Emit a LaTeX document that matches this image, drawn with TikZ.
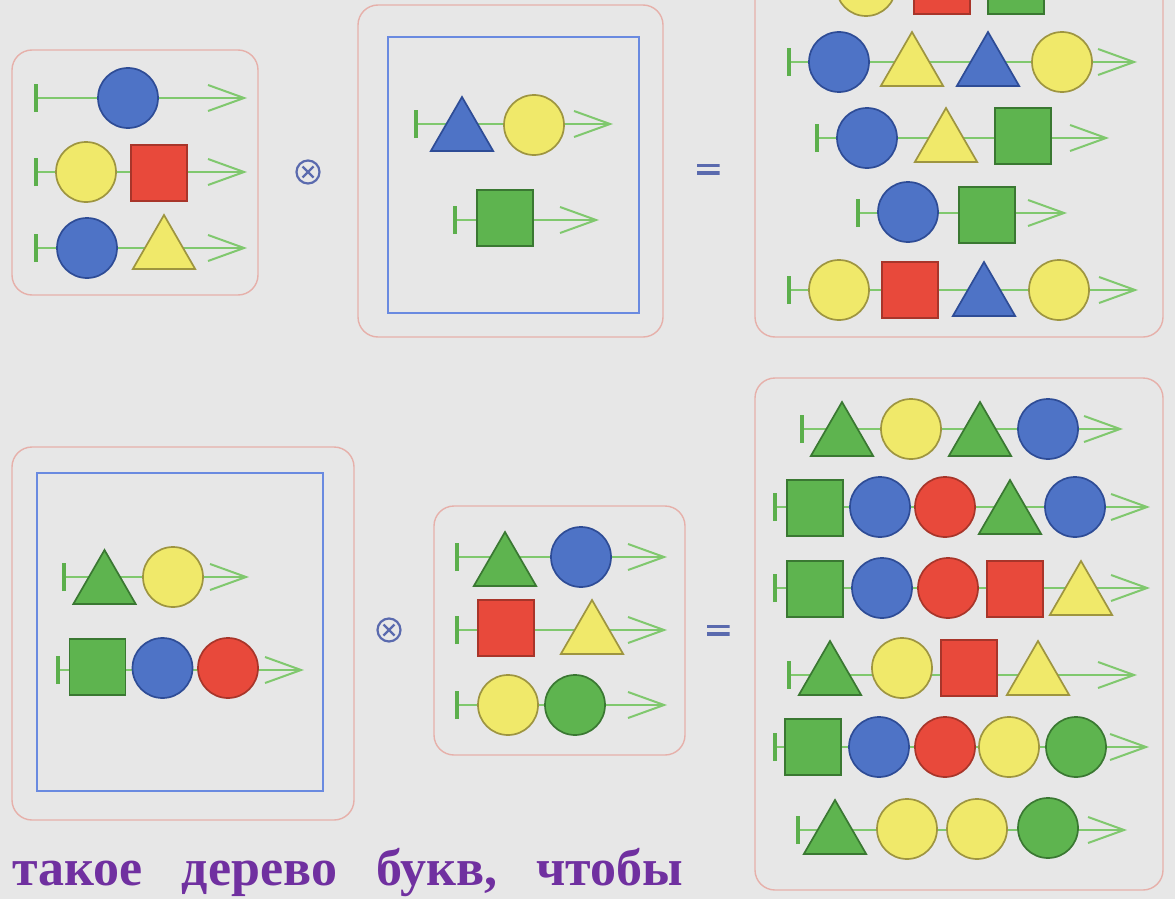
\documentclass[tikz,border=0pt]{standalone}
\usepackage{fontspec}
\setmainfont{Liberation Serif}
\usetikzlibrary{arrows.meta,shapes.geometric}
\definecolor{pagegrey}{HTML}{E7E7E7}
\definecolor{cardpink}{HTML}{E6B0AA}
\definecolor{frameblue}{HTML}{6A8AE0}
\definecolor{opgrey}{HTML}{5A6AAE}
\definecolor{trackgreen}{HTML}{80C86E}
\definecolor{tickgreen}{HTML}{5CAF4C}
\definecolor{fblue}{HTML}{4E73C6}
\definecolor{dblue}{HTML}{2E4C96}
\definecolor{fyellow}{HTML}{F0E96A}
\definecolor{dyellow}{HTML}{9E9540}
\definecolor{fred}{HTML}{E8493B}
\definecolor{dred}{HTML}{A8352A}
\definecolor{fgreen}{HTML}{5EB44F}
\definecolor{dgreen}{HTML}{3A7832}
\definecolor{txtpurple}{HTML}{7030A0}

\begin{document}
\begin{tikzpicture}[x=1pt, y=-1pt,
  card/.style={draw=cardpink, line width=1.4pt, rounded corners=20pt},
  frame/.style={draw=frameblue, line width=2pt},
  track/.style={draw=trackgreen, line width=2pt,
    {Bar[width=28pt,line width=3.5pt,color=tickgreen]}-{Straight Barb[length=36pt,width=26pt]}},
  ball/.style={circle, minimum size=60pt, inner sep=0pt, line width=1.7pt},
  sqr/.style={rectangle, minimum size=56pt, inner sep=0pt, line width=1.7pt},
  tri/.style={regular polygon, regular polygon sides=3, minimum size=72pt, inner sep=0pt, line width=1.7pt},
  blu/.style={fill=fblue, draw=dblue},
  yel/.style={fill=fyellow, draw=dyellow},
  rd/.style={fill=fred, draw=dred},
  grn/.style={fill=fgreen, draw=dgreen},
  opsign/.style={circle, draw=opgrey, line width=2.2pt, minimum size=23pt, inner sep=0pt,
    path picture={\draw[opgrey, line width=2.2pt]
      (path picture bounding box.center) ++(-5.5pt,-5.5pt) -- ++(11pt,11pt)
      (path picture bounding box.center) ++(-5.5pt,5.5pt) -- ++(11pt,-11pt);}},
  eqsign/.style={rectangle, minimum width=23pt, minimum height=11pt, inner sep=0pt,
    path picture={\fill[opgrey] (path picture bounding box.north west) rectangle ++(23pt,-3.5pt);
      \fill[opgrey] (path picture bounding box.south west) rectangle ++(23pt,3.5pt);}}]
\useasboundingbox (0,0) rectangle (1175,899);
\clip (0,0) rectangle (1175,899);
\fill[pagegrey] (0,0) rectangle (1175,899);

% top line: cards
\draw[card] (12,50) rectangle (258,295);
\draw[card] (358,5) rectangle (663,337);
\draw[frame] (388,37) rectangle (639,313);
\draw[card] (755,-40) rectangle (1163,337);

% first card
\coordinate (a1s) at (34,98); \coordinate (a1e) at (247,98);
\draw[track] (a1s) -- (a1e);
\node[ball, blu] (a1n1) at (128,98) {};
\coordinate (a2s) at (34,172); \coordinate (a2e) at (247,172);
\draw[track] (a2s) -- (a2e);
\node[ball, yel] (a2n1) at (86,172) {};
\node[sqr, rd] (a2n2) at (159,173) {};
\coordinate (a3s) at (34,248); \coordinate (a3e) at (247,248);
\draw[track] (a3s) -- (a3e);
\node[ball, blu] (a3n1) at (87,248) {};
\node[tri, yel] (a3n2) at (164,251) {};

\node[opsign] (times1) at (308,172) {};

% second card
\coordinate (b1s) at (414,124); \coordinate (b1e) at (613,124);
\draw[track] (b1s) -- (b1e);
\node[tri, blu] (b1n1) at (462,133) {};
\node[ball, yel] (b1n2) at (534,125) {};
\coordinate (b2s) at (453,220); \coordinate (b2e) at (599,220);
\draw[track] (b2s) -- (b2e);
\node[sqr, grn] (b2n1) at (505,218) {};

\node[eqsign] (equal1) at (708,169) {};

% result card
\coordinate (c1s) at (813,-14); \coordinate (c1e) at (1098,-14);
\draw[track] (c1s) -- (c1e);
\node[ball, yel] (c1n1) at (866,-14) {};
\node[sqr, rd] (c1n2) at (942,-14) {};
\node[sqr, grn] (c1n3) at (1016,-14) {};
\coordinate (c2s) at (787,62); \coordinate (c2e) at (1137,62);
\draw[track] (c2s) -- (c2e);
\node[ball, blu] (c2n1) at (839,62) {};
\node[tri, yel] (c2n2) at (912,68) {};
\node[tri, blu] (c2n3) at (988,68) {};
\node[ball, yel] (c2n4) at (1062,62) {};
\coordinate (c3s) at (815,138); \coordinate (c3e) at (1109,138);
\draw[track] (c3s) -- (c3e);
\node[ball, blu] (c3n1) at (867,138) {};
\node[tri, yel] (c3n2) at (946,144) {};
\node[sqr, grn] (c3n3) at (1023,136) {};
\coordinate (c4s) at (856,213); \coordinate (c4e) at (1067,213);
\draw[track] (c4s) -- (c4e);
\node[ball, blu] (c4n1) at (908,212) {};
\node[sqr, grn] (c4n2) at (987,215) {};
\coordinate (c5s) at (787,290); \coordinate (c5e) at (1138,290);
\draw[track] (c5s) -- (c5e);
\node[ball, yel] (c5n1) at (839,290) {};
\node[sqr, rd] (c5n2) at (910,290) {};
\node[tri, blu] (c5n3) at (984,298) {};
\node[ball, yel] (c5n4) at (1059,290) {};

% bottom line: cards
\draw[card] (12,447) rectangle (354,820);
\draw[frame] (37,473) rectangle (323,791);
\draw[card] (434,506) rectangle (685,755);
\draw[card] (755,378) rectangle (1163,890);

% fourth card
\coordinate (d1s) at (62,577); \coordinate (d1e) at (249,577);
\draw[track] (d1s) -- (d1e);
\node[tri, grn] (d1n1) at (104.5,586) {};
\node[ball, yel] (d1n2) at (173,577) {};
\coordinate (d2s) at (56,670); \coordinate (d2e) at (304,670);
\draw[track] (d2s) -- (d2e);
\node[sqr, grn] (d2n1) at (97.5,667) {};
\node[ball, blu] (d2n2) at (162.5,668) {};
\node[ball, rd] (d2n3) at (228,668) {};

\node[opsign] (times2) at (389,630) {};

% fifth card
\coordinate (e1s) at (455,557); \coordinate (e1e) at (667,557);
\draw[track] (e1s) -- (e1e);
\node[tri, grn] (e1n1) at (505,568) {};
\node[ball, blu] (e1n2) at (581,557) {};
\coordinate (e2s) at (455,630); \coordinate (e2e) at (667,630);
\draw[track] (e2s) -- (e2e);
\node[sqr, rd] (e2n1) at (506,628) {};
\node[tri, yel] (e2n2) at (592,636) {};
\coordinate (e3s) at (455,705); \coordinate (e3e) at (667,705);
\draw[track] (e3s) -- (e3e);
\node[ball, yel] (e3n1) at (508,705) {};
\node[ball, grn] (e3n2) at (575,705) {};

\node[eqsign] (equal2) at (718,630) {};

% result card
\coordinate (f1s) at (800,429); \coordinate (f1e) at (1123,429);
\draw[track] (f1s) -- (f1e);
\node[tri, grn] (f1n1) at (842,438) {};
\node[ball, yel] (f1n2) at (911,429) {};
\node[tri, grn] (f1n3) at (980,438) {};
\node[ball, blu] (f1n4) at (1048,429) {};
\coordinate (f2s) at (773,507); \coordinate (f2e) at (1150,507);
\draw[track] (f2s) -- (f2e);
\node[sqr, grn] (f2n1) at (815,508) {};
\node[ball, blu] (f2n2) at (880,507) {};
\node[ball, rd] (f2n3) at (945,507) {};
\node[tri, grn] (f2n4) at (1010,516) {};
\node[ball, blu] (f2n5) at (1075,507) {};
\coordinate (f3s) at (773,588); \coordinate (f3e) at (1150,588);
\draw[track] (f3s) -- (f3e);
\node[sqr, grn] (f3n1) at (815,589) {};
\node[ball, blu] (f3n2) at (882,588) {};
\node[ball, rd] (f3n3) at (948,588) {};
\node[sqr, rd] (f3n4) at (1015,589) {};
\node[tri, yel] (f3n5) at (1081,597) {};
\coordinate (f4s) at (787,675); \coordinate (f4e) at (1137,675);
\draw[track] (f4s) -- (f4e);
\node[tri, grn] (f4n1) at (830,677) {};
\node[ball, yel] (f4n2) at (902,668) {};
\node[sqr, rd] (f4n3) at (969,668) {};
\node[tri, yel] (f4n4) at (1038,677) {};
\coordinate (f5s) at (773,747); \coordinate (f5e) at (1149,747);
\draw[track] (f5s) -- (f5e);
\node[sqr, grn] (f5n1) at (813,747) {};
\node[ball, blu] (f5n2) at (879,747) {};
\node[ball, rd] (f5n3) at (945,747) {};
\node[ball, yel] (f5n4) at (1009,747) {};
\node[ball, grn] (f5n5) at (1076,747) {};
\coordinate (f6s) at (796,830); \coordinate (f6e) at (1127,830);
\draw[track] (f6s) -- (f6e);
\node[tri, grn] (f6n1) at (835,836) {};
\node[ball, yel] (f6n2) at (907,829) {};
\node[ball, yel] (f6n3) at (977,829) {};
\node[ball, grn] (f6n4) at (1048,828) {};

\node[anchor=base west, inner sep=0pt, text=txtpurple,
  font=\bfseries\fontsize{52}{56}\selectfont] (caption) at (12,885)
  {\hbox to 671pt{такое\hfill дерево\hfill букв,\hfill чтобы}};
\end{tikzpicture}
\end{document}
